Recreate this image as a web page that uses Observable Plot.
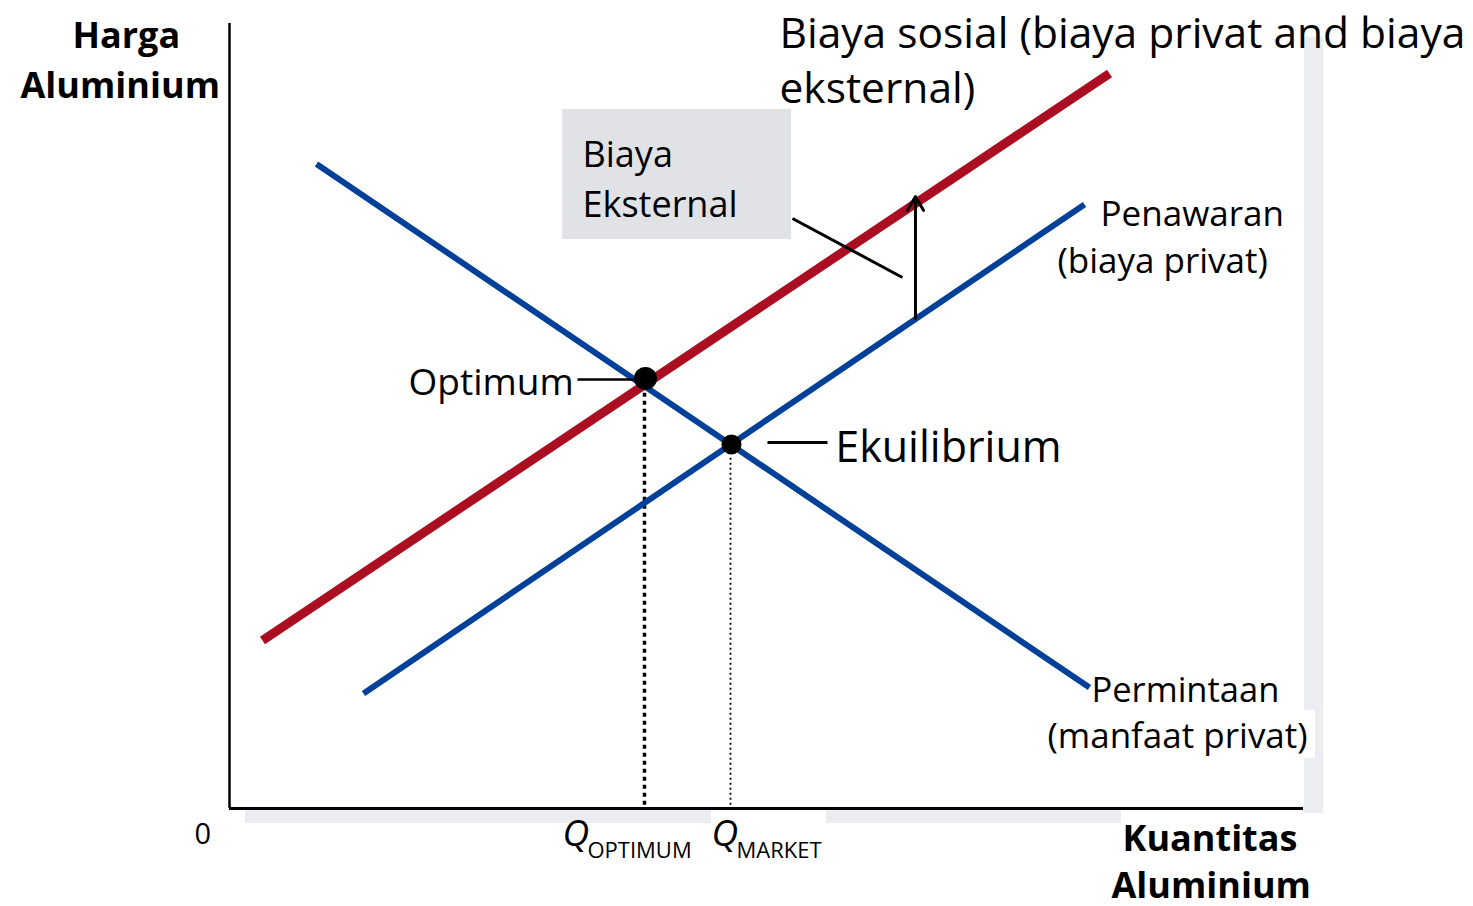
<!DOCTYPE html>
<html>
<head>
<meta charset="utf-8">
<script src="https://cdn.jsdelivr.net/npm/d3@7"></script>
<script src="https://cdn.jsdelivr.net/npm/@observablehq/plot@0.6"></script>
<style>
  html, body { margin: 0; padding: 0; background: #fff; }
</style>
</head>
<body>
<div id="chart"></div>
<script>
// ---- Data (quantity q on 0..100, price p on 0..100) ----
const demand = [ {q: 8.10, p: 82.31}, {q: 80.07, p: 15.45} ];          // Permintaan (manfaat privat)
const supply = [ {q: 12.48, p: 14.69}, {q: 79.61, p: 77.14} ];         // Penawaran (biaya privat)
const socialCost = [ {q: 3.07, p: 21.46}, {q: 81.94, p: 93.87} ];      // Biaya sosial
const optimumPoint = [ {q: 38.73, p: 54.92} ];
const equilibriumPoint = [ {q: 46.74, p: 46.49} ];
const qOptimum = 38.64;
const qMarket = 46.65;
const externalCost = [ {q: 63.87, p1: 62.58, p2: 78.16} ];              // arrow from private to social cost

// tick / axis labels
const xTickLabels = [ {label: "Q", sub: "OPTIMUM", q: 31.01, qs: 33.33}, {label: "Q", sub: "MARKET", q: 44.88, qs: 47.21} ];
const originLabel = ["0"];
const yTitle = ["Harga", "Aluminium"];
const xTitle = ["Kuantitas", "Aluminium"];
const titleLines = ["Biaya sosial (biaya privat and biaya", "eksternal)"];

// annotation anchors (data coords)
const annotations = [
  {text: titleLines[0], q: 51.21, p: 97.19, size: 42.5},
  {text: titleLines[1], q: 51.21, p: 90.04, size: 42.5},
  {text: "Biaya", q: 32.87, p: 81.99, size: 36},
  {text: "Eksternal", q: 32.87, p: 75.48, size: 36},
  {text: "Optimum", q: 16.67, p: 52.75, size: 37},
  {text: "Ekuilibrium", q: 56.40, p: 44.19, size: 43},
  {text: "Penawaran", q: 81.10, p: 74.33, size: 35},
  {text: "(biaya privat)", q: 77.09, p: 68.45, size: 35},
  {text: "Permintaan", q: 80.26, p: 13.54, size: 34.5},
  {text: "(manfaat privat)", q: 76.16, p: 7.79, size: 35},
  {text: originLabel[0], q: -3.26, p: -4.47, size: 29}
];
const boldTitles = [
  {text: yTitle[0], q: -14.62, p: 97.19},
  {text: yTitle[1], q: -19.46, p: 90.80},
  {text: xTitle[0], q: 83.15, p: -5.49},
  {text: xTitle[1], q: 82.12, p: -11.37}
];
const leaders = [
  {q1: 32.40, p1: 54.79, q2: 37.62, p2: 54.79, w: 2.5},
  {q1: 50.09, p1: 46.74, q2: 55.68, p2: 46.74, w: 3},
  {q1: 52.42, p1: 75.35, q2: 62.66, p2: 67.82, w: 3}
];
const labelBox = [ {q1: 31.01, q2: 52.33, p1: 72.67, p2: 89.27} ];
const shadows = [
  {q1: 100.09, q2: 101.86, p1: -0.64, p2: 98.5},
  {q1: 1.49, q2: 44.88, p1: -1.92, p2: -0.26},
  {q1: 55.59, q2: 83.05, p1: -1.92, p2: -0.26}
];
const whitePatches = [ {q1: 100.09, q2: 101.12, p1: 6.39, p2: 12.52} ];

const BLUE = "#004098";
const RED = "#aa0e20";

const chart = Plot.plot({
  width: 1473,
  height: 906,
  marginLeft: 229,
  marginRight: 170,
  marginTop: 25,
  marginBottom: 98,
  x: {domain: [0, 100], axis: null},
  y: {domain: [0, 100], axis: null},
  style: {fontFamily: "'Open Sans', sans-serif", background: "white", overflow: "visible"},
  marks: [
    Plot.rect(shadows, {x1: "q1", x2: "q2", y1: "p1", y2: "p2", fill: "#ecedf1"}),
    Plot.rect(whitePatches, {x1: "q1", x2: "q2", y1: "p1", y2: "p2", fill: "white"}),
    Plot.rect(labelBox, {x1: "q1", x2: "q2", y1: "p1", y2: "p2", fill: "#e0e2e6"}),
    // axes
    Plot.ruleX([0], {y1: 0, y2: 100.25, stroke: "black", strokeWidth: 2.5}),
    Plot.ruleY([0], {x1: 0, x2: 100, stroke: "black", strokeWidth: 3}),
    // dotted drop lines
    Plot.ruleX([qOptimum], {y1: 0.4, y2: 53.5, stroke: "black", strokeWidth: 3.5, strokeDasharray: "4,4"}),
    Plot.ruleX([qMarket], {y1: 0.4, y2: 45, stroke: "black", strokeWidth: 1.8, strokeDasharray: "2,3"}),
    // curves
    Plot.line(demand, {x: "q", y: "p", stroke: BLUE, strokeWidth: 6, strokeLinecap: "butt"}),
    Plot.line(supply, {x: "q", y: "p", stroke: BLUE, strokeWidth: 6, strokeLinecap: "butt"}),
    Plot.line(socialCost, {x: "q", y: "p", stroke: RED, strokeWidth: 9, strokeLinecap: "butt"}),
    // leader lines
    Plot.link(leaders, {x1: "q1", y1: "p1", x2: "q2", y2: "p2", stroke: "black", strokeWidth: "w"}),
    // external cost arrow
    Plot.arrow(externalCost, {x: "q", y1: "p1", y2: "p2", stroke: "black", strokeWidth: 3, headLength: 8, headAngle: 60}),
    // points
    Plot.dot(optimumPoint, {x: "q", y: "p", r: 11.5, fill: "black"}),
    Plot.dot(equilibriumPoint, {x: "q", y: "p", r: 10, fill: "black"}),
    // texts
    ...annotations.map(a => Plot.text([a], {x: "q", y: "p", text: "text", textAnchor: "start", lineAnchor: "bottom", fontSize: a.size, fill: "black"})),
    Plot.text(boldTitles, {x: "q", y: "p", text: "text", textAnchor: "start", lineAnchor: "bottom", fontSize: 36, fontWeight: "bold", fill: "black"}),
    Plot.text(xTickLabels, {x: "q", y: () => -4.85, text: "label", textAnchor: "start", lineAnchor: "bottom", fontSize: 37, fontStyle: "italic", fill: "black"}),
    Plot.text(xTickLabels, {x: "qs", y: () => -6.26, text: "sub", textAnchor: "start", lineAnchor: "bottom", fontSize: 22, fill: "black"})
  ]
});
document.getElementById("chart").appendChild(chart);
</script>
</body>
</html>
